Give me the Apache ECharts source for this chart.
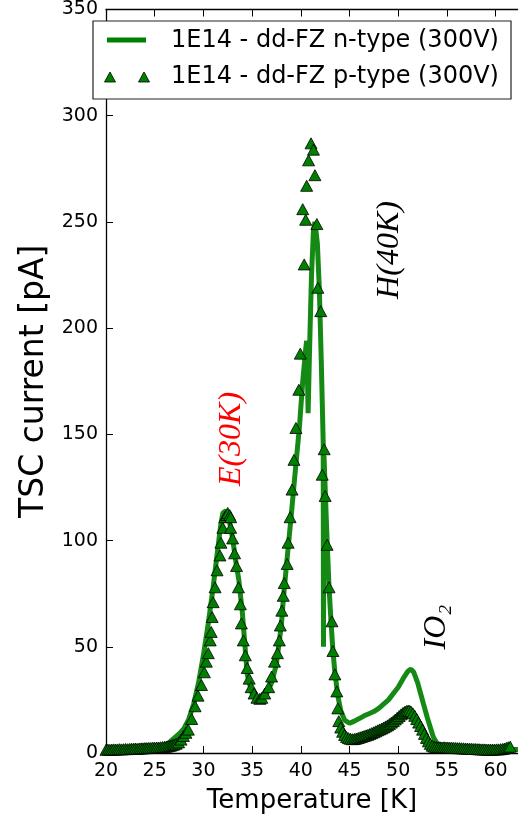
<!DOCTYPE html>
<html>
<head>
<meta charset="utf-8">
<script src="https://cdn.jsdelivr.net/npm/echarts@6/dist/echarts.min.js"></script>
<style>
    html, body { margin: 0; padding: 0; background: #fff; }
    #chart1 { width: 518px; height: 819px; }
</style>
</head>
<body>
<div id="chart1"></div>
<script>
// n-type (300V): temperature [K], TSC current [pA]
var nTemp = [20, 21, 22, 23, 24, 25, 26, 26.5, 27, 27.5, 28, 28.5, 29, 29.5, 30, 30.5, 31, 31.5, 31.8, 32.0, 32.3, 32.6, 33.0, 33.3, 33.65, 34.0, 34.5, 35.0, 35.5, 36.0, 36.5, 37.0, 37.5, 38.0, 38.2, 38.5, 39.0, 39.5, 39.85, 40.2, 40.5, 40.6, 40.68, 40.75, 40.9, 41.1, 41.3, 41.45, 41.7, 41.9, 42.1, 42.25, 42.3, 42.33, 42.38, 42.5, 42.7, 42.9, 43.1, 43.3, 43.5, 43.8, 44.1, 44.5, 45.0, 45.5, 46.0, 46.5, 47.0, 47.5, 48.0, 48.5, 49.0, 49.5, 50.0, 50.5, 51.0, 51.3, 51.6, 52.0, 52.3, 52.6, 53.0, 53.3, 53.6, 54.0, 54.5, 55, 56, 57, 58, 59, 60, 61, 62.3];
var nCurrent = [1.2, 1.3, 1.5, 1.8, 2.2, 2.8, 3.6, 5, 7, 9, 11.5, 16, 23, 33, 46, 61, 78, 97, 108, 113, 114, 111, 101, 91, 81, 66, 37, 28, 25, 25.5, 28, 33, 42, 60, 72, 87, 111, 136, 153, 175, 190, 194, 178, 160, 190, 225, 246, 250, 240, 219, 185, 156, 146, 50, 140, 125, 100, 78, 62, 48, 38, 27, 20, 15.5, 14, 15, 16.2, 17.5, 18.5, 19.5, 21, 23, 25, 28, 31, 35, 38.5, 39.5, 38, 33, 28, 23, 16.5, 12, 7.5, 4.5, 3, 2.7, 2.4, 2.2, 2, 1.8, 1.7, 1.6, 1.6];

// p-type (300V)
var pTemp = [20.0, 20.2, 20.4, 20.6, 20.8, 21.0, 21.2, 21.4, 21.6, 21.8, 22.0, 22.2, 22.4, 22.6, 22.8, 23.0, 23.2, 23.4, 23.6, 23.8, 24.0, 24.2, 24.4, 24.6, 24.8, 25.0, 25.2, 25.4, 25.6, 25.8, 26.0, 26.2, 26.4, 26.6, 26.8, 27.0, 27.2,
    27.45, 27.7, 27.95, 28.2, 28.45, 28.8, 29.15, 29.45, 29.8, 30.1, 30.3, 30.5, 30.7, 30.8, 30.9, 31.0, 31.2, 31.4, 31.7, 31.8, 32.0, 32.2, 32.4, 32.5, 32.7, 32.8, 32.8, 33.0, 33.2, 33.4, 33.6, 33.8, 33.9, 34.1, 34.3, 34.5, 34.7, 34.9, 35.2, 35.5, 35.8, 36.0, 36.3, 36.7, 37.0, 37.3,
    37.6, 37.8, 37.9, 38.05, 38.2, 38.3, 38.6, 38.7, 38.9, 39.1, 39.3, 39.5, 39.8, 39.95, 40.35, 40.2, 40.5, 40.6, 40.8, 41.05, 41.3, 41.45, 41.65, 41.75, 42.05, 42.4, 42.2, 42.5, 42.7, 42.9, 43.2, 43.3, 43.5, 43.7, 43.8, 43.9,
    44.1, 44.3, 44.5, 44.7, 44.9, 45.1, 45.3, 45.5, 45.7, 45.9, 46.1, 46.3, 46.5, 46.7, 46.9, 47.1, 47.3, 47.5, 47.7, 47.9, 48.1, 48.3, 48.5, 48.7, 48.9, 49.1, 49.3, 49.5, 49.7, 49.9, 50.1, 50.3, 50.5, 50.7, 50.9, 51.1, 51.3, 51.5, 51.7, 51.9, 52.1, 52.3, 52.5, 52.7, 52.9, 53.1, 53.3, 53.5, 53.7, 53.9,
    54.1, 54.3, 54.5, 54.7, 54.9, 55.1, 55.3, 55.5, 55.7, 55.9, 56.1, 56.3, 56.5, 56.7, 56.9, 57.1, 57.3, 57.5, 57.7, 57.9, 58.1, 58.3, 58.5, 58.7, 58.9, 59.1, 59.3, 59.5, 59.7, 59.9, 60.1, 60.3, 60.5, 60.7, 60.9, 61.1, 61.3, 61.5];
var pCurrent = [1.5, 1.6, 1.5, 1.6, 1.7, 1.6, 1.7, 1.8, 1.7, 1.8, 1.9, 1.8, 1.9, 2.0, 2.0, 2.1, 2.0, 2.1, 2.2, 2.2, 2.3, 2.3, 2.4, 2.4, 2.5, 2.5, 2.6, 2.6, 2.7, 2.8, 2.9, 3.0, 3.2, 3.4, 3.7, 4.0, 4.4,
    5, 6.3, 8, 9.5, 11, 16, 22, 27, 32, 38, 43, 47, 53, 57, 64, 71, 78, 86, 93, 99, 106, 111, 112, 113, 112, 111, 106, 101, 94, 88, 78, 70, 61, 53, 46, 40, 35, 31, 28, 26, 25.5, 26, 28, 31, 36, 43,
    47, 53, 60, 67, 74, 80, 89, 99, 111, 124, 138, 153, 171, 188, 230, 256, 251, 267, 279, 287, 284, 272, 249, 219, 208, 143, 131, 121, 98, 78, 62, 48, 37, 29, 21, 15,
    12, 10, 8.5, 7.5, 7, 6.7, 6.5, 6.6, 6.8, 7.1, 7.4, 7.7, 8.0, 8.3, 8.6, 9.0, 9.4, 9.8, 10.2, 10.7, 11.1, 11.5, 12.0, 12.5, 13.0, 13.6, 14.3, 15.0, 15.8, 16.6, 17.4, 18.2, 18.9, 19.5, 19.9, 20.0, 19.6, 18.7, 17.5, 16.0, 14.3, 12.7, 11.0, 9.0, 7.1, 5.5, 4.3, 3.4, 3.0, 2.8,
    2.7, 2.7, 2.6, 2.7, 2.6, 2.6, 2.5, 2.5, 2.4, 2.4, 2.3, 2.3, 2.2, 2.2, 2.1, 2.1, 2.0, 2.0, 1.9, 1.9, 1.8, 1.8, 1.7, 1.7, 1.7, 1.6, 1.6, 1.6, 1.6, 1.6, 1.7, 1.7, 1.8, 1.9, 2.1, 2.4, 2.7, 3.0];

var yTicks = [0, 50, 100, 150, 200, 250, 300, 350];
var xTicks = [20, 25, 30, 35, 40, 45, 50, 55, 60];

var nData = nTemp.map(function (t, i) { return [t, nCurrent[i]]; });
var pData = pTemp.map(function (t, i) { return [t, pCurrent[i]]; });

var green = '#008000';
var font = 'DejaVu Sans';
var mathFont = '"Liberation Serif", "DejaVu Serif", serif';

var chart1 = echarts.init(document.getElementById('chart1'));

var option = {
    animation: false,
    backgroundColor: '#fff',
    grid: {
        left: 106,
        top: 7,
        right: -8,
        bottom: 65
    },
    xAxis: [
        {
            type: 'value',
            min: xTicks[0],
            max: 62.3,
            interval: 5,
            name: 'Temperature [K]',
            nameLocation: 'middle',
            nameGap: 35,
            nameTextStyle: {fontFamily: font, fontSize: 26, color: '#000'},
            axisLine: {lineStyle: {color: '#000', width: 1.3}},
            axisTick: {inside: true, length: 7, lineStyle: {color: '#000'}},
            axisLabel: {
                fontFamily: font, fontSize: 19, color: '#000', margin: 9,
                showMaxLabel: false,
                formatter: function (v) { return xTicks.indexOf(v) >= 0 ? String(v) : ''; }
            },
            splitLine: {show: false}
        },
        {
            type: 'value',
            position: 'top',
            min: xTicks[0],
            max: 62.3,
            interval: 5,
            axisLine: {onZero: false, lineStyle: {color: '#000', width: 1.3}},
            axisTick: {inside: true, length: 7, lineStyle: {color: '#000'}},
            axisLabel: {show: false},
            splitLine: {show: false}
        }
    ],
    yAxis: {
        type: 'value',
        min: yTicks[0],
        max: yTicks[yTicks.length - 1],
        interval: 50,
        name: 'TSC current [pA]',
        nameLocation: 'middle',
        nameGap: 54,
        nameTextStyle: {fontFamily: font, fontSize: 33, color: '#000'},
        axisLine: {show: true, lineStyle: {color: '#000', width: 1.3}},
        axisTick: {show: true, inside: true, length: 7, lineStyle: {color: '#000'}},
        axisLabel: {fontFamily: font, fontSize: 19, color: '#000', margin: 8},
        splitLine: {show: false}
    },
    series: [
        {
            name: '1E14 - dd-FZ n-type (300V)',
            type: 'line',
            data: nData,
            showSymbol: false,
            smooth: false,
            lineStyle: {color: green, width: 5, opacity: 0.92},
            z: 2
        },
        {
            name: '1E14 - dd-FZ p-type (300V)',
            type: 'scatter',
            data: pData,
            symbol: 'triangle',
            symbolSize: [12, 11],
            itemStyle: {color: green, borderColor: '#000', borderWidth: 0.8, opacity: 1},
            z: 3
        }
    ],
    graphic: [
        // legend
        {
            type: 'rect', shape: {x: 93, y: 21, width: 418, height: 78},
            style: {fill: '#fff', stroke: '#222', lineWidth: 1.2}, z: 10
        },
        {
            type: 'line', shape: {x1: 107, y1: 40, x2: 146, y2: 40},
            style: {stroke: green, lineWidth: 5}, z: 11
        },
        {
            type: 'text', x: 171, y: 41, z: 11,
            style: {text: '1E14 - dd-FZ n-type (300V)', fontFamily: font, fontSize: 24, fill: '#000', verticalAlign: 'middle'}
        },
        {
            type: 'polygon', shape: {points: [[110, 72], [104.5, 82], [115.5, 82]]},
            style: {fill: green, stroke: '#000', lineWidth: 0.8}, z: 11
        },
        {
            type: 'polygon', shape: {points: [[144, 72], [138.5, 82], [149.5, 82]]},
            style: {fill: green, stroke: '#000', lineWidth: 0.8}, z: 11
        },
        {
            type: 'text', x: 171, y: 77, z: 11,
            style: {text: '1E14 - dd-FZ p-type (300V)', fontFamily: font, fontSize: 24, fill: '#000', verticalAlign: 'middle'}
        },
        // peak labels
        {
            type: 'text', x: 232, y: 439, rotation: Math.PI / 2, z: 5,
            style: {text: 'E(30K)', fontFamily: mathFont, fontStyle: 'italic', fontSize: 32, fill: '#ff0000', align: 'center', verticalAlign: 'middle'}
        },
        {
            type: 'text', x: 390, y: 250, rotation: Math.PI / 2, z: 5,
            style: {text: 'H(40K)', fontFamily: mathFont, fontStyle: 'italic', fontSize: 32, fill: '#000', align: 'center', verticalAlign: 'middle'}
        },
        {
            type: 'text', x: 437, y: 627, rotation: Math.PI / 2, z: 5,
            style: {text: 'IO₂', fontFamily: mathFont, fontStyle: 'italic', fontSize: 32, fill: '#000', align: 'center', verticalAlign: 'middle'}
        }
    ]
};

chart1.setOption(option);
window.addEventListener('resize', function () {
    chart1.resize();
});
</script>
</body>
</html>
